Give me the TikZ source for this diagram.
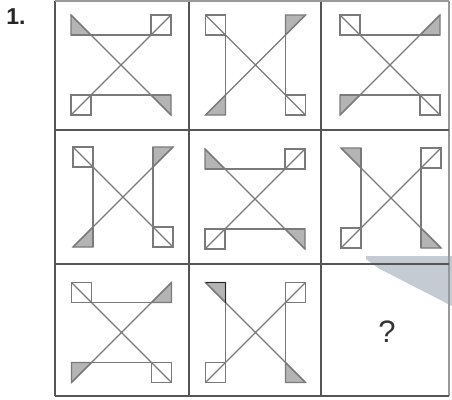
\documentclass[tikz,border=0pt]{standalone}
\usepackage{fontspec}
\setmainfont{Liberation Sans}
\definecolor{figline}{HTML}{7A7A7A}
\definecolor{gridline}{HTML}{555555}
\definecolor{shade}{HTML}{B4B4B4}
\definecolor{scan}{RGB}{196,203,211}
\tikzset{
  fl/.style={draw=figline,line width=1.2pt,line join=miter},
  tri/.style={fl,fill=shade},
  grid/.style={draw=gridline,line width=1.1pt},
  hA/.pic={
    \draw[tri] (0,0)--(0,20)--(20,20)--cycle;
    \draw[tri] (100,100)--(100,80)--(80,80)--cycle;
    \draw[fl] (80,0) rectangle (100,20);
    \draw[fl] (0,80) rectangle (20,100);
    \draw[fl] (0,20)--(100,20) (0,80)--(100,80);
    \draw[fl] (0,0)--(100,100) (100,0)--(0,100);
  },
  hB/.pic={
    \draw[tri] (100,0)--(100,20)--(80,20)--cycle;
    \draw[tri] (0,100)--(0,80)--(20,80)--cycle;
    \draw[fl] (0,0) rectangle (20,20);
    \draw[fl] (80,80) rectangle (100,100);
    \draw[fl] (0,20)--(100,20) (0,80)--(100,80);
    \draw[fl] (0,0)--(100,100) (100,0)--(0,100);
  },
  vA/.pic={
    \draw[tri] (0,0)--(20,0)--(20,20)--cycle;
    \draw[tri] (100,100)--(80,100)--(80,80)--cycle;
    \draw[fl] (80,0) rectangle (100,20);
    \draw[fl] (0,80) rectangle (20,100);
    \draw[fl] (20,0)--(20,100) (80,0)--(80,100);
    \draw[fl] (0,0)--(100,100) (100,0)--(0,100);
  },
  vB/.pic={
    \draw[tri] (100,0)--(80,0)--(80,20)--cycle;
    \draw[tri] (0,100)--(20,100)--(20,80)--cycle;
    \draw[fl] (0,0) rectangle (20,20);
    \draw[fl] (80,80) rectangle (100,100);
    \draw[fl] (20,0)--(20,100) (80,0)--(80,100);
    \draw[fl] (0,0)--(100,100) (100,0)--(0,100);
  }
}
\begin{document}
\begin{tikzpicture}[x=1pt,y=-1pt]
\useasboundingbox (0,0) rectangle (452,399);
\fill[white] (0,0) rectangle (452,399);
% scan shadow
\fill[scan] (366,256)--(452,256)--(452,306)--(378,268)--(366,259)--cycle;
% grid
\draw[grid] (55,1)--(55,396) (189,1)--(189,396) (321,1)--(321,396);
\draw[grid,draw=gridline!60] (449,1)--(449,396);
\draw[grid,draw=gridline!60] (55,1)--(449,1);
\draw[grid] (55,130)--(449,130) (55,264)--(449,264) (55,396)--(449,396);
% figures
\pic at (71,15) {hA};
\pic at (205.5,15) {vB};
\pic at (340,15) {hB};
\pic at (73,147) {vB};
\pic at (205,149) {hA};
\pic at (341,148) {vA};
\pic at (71.5,282.5) {hB};
\pic at (205.5,282.5) {vA};
\draw[draw=black!85,line width=1.2pt] (205.5,282.5)--(225.5,282.5)--(225.5,302.5);
% texts
\node[inner sep=0,font=\fontsize{23}{23}\selectfont\bfseries,text=black!85] (num) at (16,16.5) {1.};
\node[inner sep=0,font=\fontsize{31}{31}\selectfont,text=black!80] (q) at (387,332) {?};
\end{tikzpicture}
\end{document}
